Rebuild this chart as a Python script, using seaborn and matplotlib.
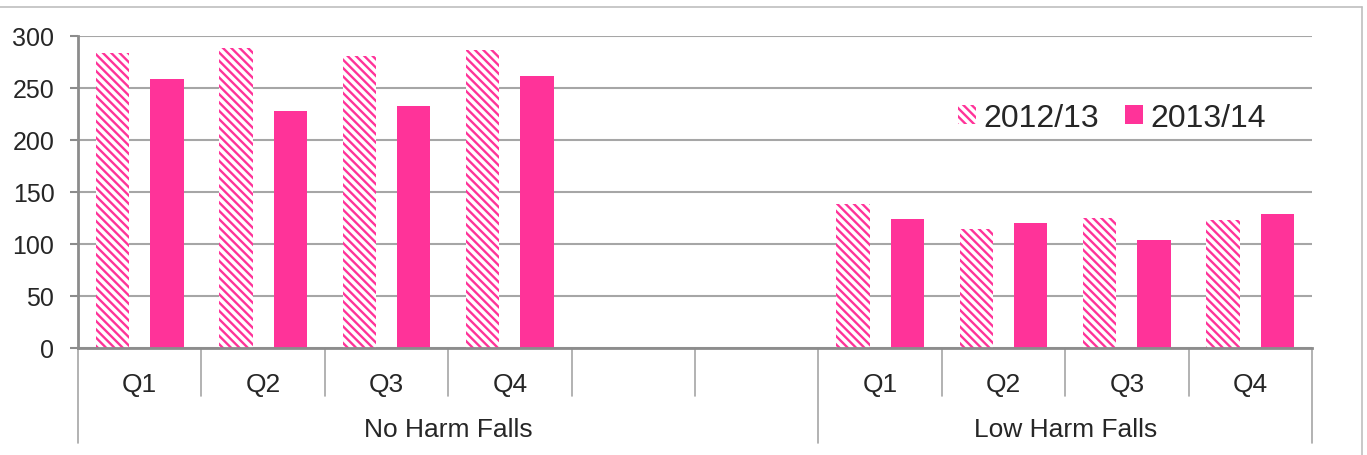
import matplotlib
matplotlib.use("Agg")
import matplotlib.pyplot as plt
from matplotlib.lines import Line2D
from matplotlib.patches import Patch
import numpy as np
import pandas as pd
import seaborn as sns

## values
quarters = ["Q1", "Q2", "Q3", "Q4"]
groups = ["No Harm Falls", "Low Harm Falls"]
years = ["2012/13", "2013/14"]
no_harm_1213 = [284, 288, 281, 287]
no_harm_1314 = [259, 228, 233, 262]
low_harm_1213 = [138, 114, 125, 123]
low_harm_1314 = [124, 120, 104, 129]

pink = "#FF3399"
grid_grey = "#A6A6A6"
axis_grey = "#8C8C8C"
stripes = "\\\\\\\\"

rows = []
for q, a, b in zip(quarters, no_harm_1213, no_harm_1314):
    rows.append({"slot": "NH " + q, "year": years[0], "value": a})
    rows.append({"slot": "NH " + q, "year": years[1], "value": b})
for q, a, b in zip(quarters, low_harm_1213, low_harm_1314):
    rows.append({"slot": "LH " + q, "year": years[0], "value": a})
    rows.append({"slot": "LH " + q, "year": years[1], "value": b})
df = pd.DataFrame(rows)

# two empty slots between the groups, like the original chart
order = ["NH " + q for q in quarters] + ["gap 1", "gap 2"] + \
        ["LH " + q for q in quarters]
tick_labels = quarters + ["", ""] + quarters

sns.set_style("white")
plt.rcParams["font.family"] = ["Liberation Sans", "DejaVu Sans"]
plt.rcParams["hatch.linewidth"] = 1.7

fig = plt.figure(figsize = (13.67, 4.56), dpi = 100)
ax = fig.add_axes([78 / 1367, 1 - 349 / 456, (1312 - 78) / 1367, 312 / 456])

sns.barplot(data = df, x = "slot", y = "value", hue = "year", order = order,
            hue_order = years, palette = [pink, pink], width = 0.88,
            gap = 0.386, saturation = 1, linewidth = 0, legend = False,
            ax = ax)

for patch in ax.containers[0]:
    patch.set_facecolor("white")
    patch.set_edgecolor(pink)
    patch.set_hatch(stripes)
    patch.set_linewidth(0)

ax.set_ylim(0, 300)
ax.set_xlim(-0.5, len(order) - 0.5)
ax.set_yticks(np.arange(0, 301, 50))
ax.yaxis.grid(True, color = grid_grey, linewidth = 1.5)
ax.set_axisbelow(True)
ax.set_xlabel("")
ax.set_ylabel("")

for side in ["top", "right"]:
    ax.spines[side].set_visible(False)
for side in ["left", "bottom"]:
    ax.spines[side].set_color(axis_grey)
    ax.spines[side].set_linewidth(2)

ax.tick_params(axis = "y", left = True, length = 6, width = 1.5,
               color = axis_grey, labelsize = 18, pad = 11)
ax.set_xticks(range(len(order)))
ax.set_xticklabels(tick_labels)
ax.tick_params(axis = "x", bottom = False, labelsize = 19, pad = 14)

# category separators below the axis
trans = ax.get_xaxis_transform()
for i in range(len(order) + 1):
    x = i - 0.5
    depth = 0.304 if x in (-0.5, 5.5, len(order) - 0.5) else 0.154
    ax.plot([x, x], [0, -depth], color = grid_grey, linewidth = 1.2,
            transform = trans, clip_on = False)

ax.text(2.5, -0.26, groups[0], transform = trans, ha = "center",
        va = "center", fontsize = 19)
ax.text(7.5, -0.26, groups[1], transform = trans, ha = "center",
        va = "center", fontsize = 19)

handles = [
    Patch(facecolor = "white", edgecolor = pink, hatch = stripes,
          linewidth = 0, label = years[0]),
    Patch(facecolor = pink, edgecolor = pink, linewidth = 0,
          label = years[1]),
    ]
ax.legend(handles = handles, loc = "upper left",
          bbox_to_anchor = (0.69, 0.877), ncol = 2, frameon = False,
          fontsize = 23, handlelength = 0.55, handleheight = 0.55,
          handletextpad = 0.25, columnspacing = 0.8)

# outer chart frame (top and right edges visible)
fig.add_artist(Line2D([0, 1362 / 1367], [1 - 8 / 456, 1 - 8 / 456],
                      color = "#BFBFBF", linewidth = 1.2))
fig.add_artist(Line2D([1362 / 1367, 1362 / 1367], [0, 1 - 8 / 456],
                      color = "#BFBFBF", linewidth = 1.2))

fig.savefig("out.png", dpi = 100)
